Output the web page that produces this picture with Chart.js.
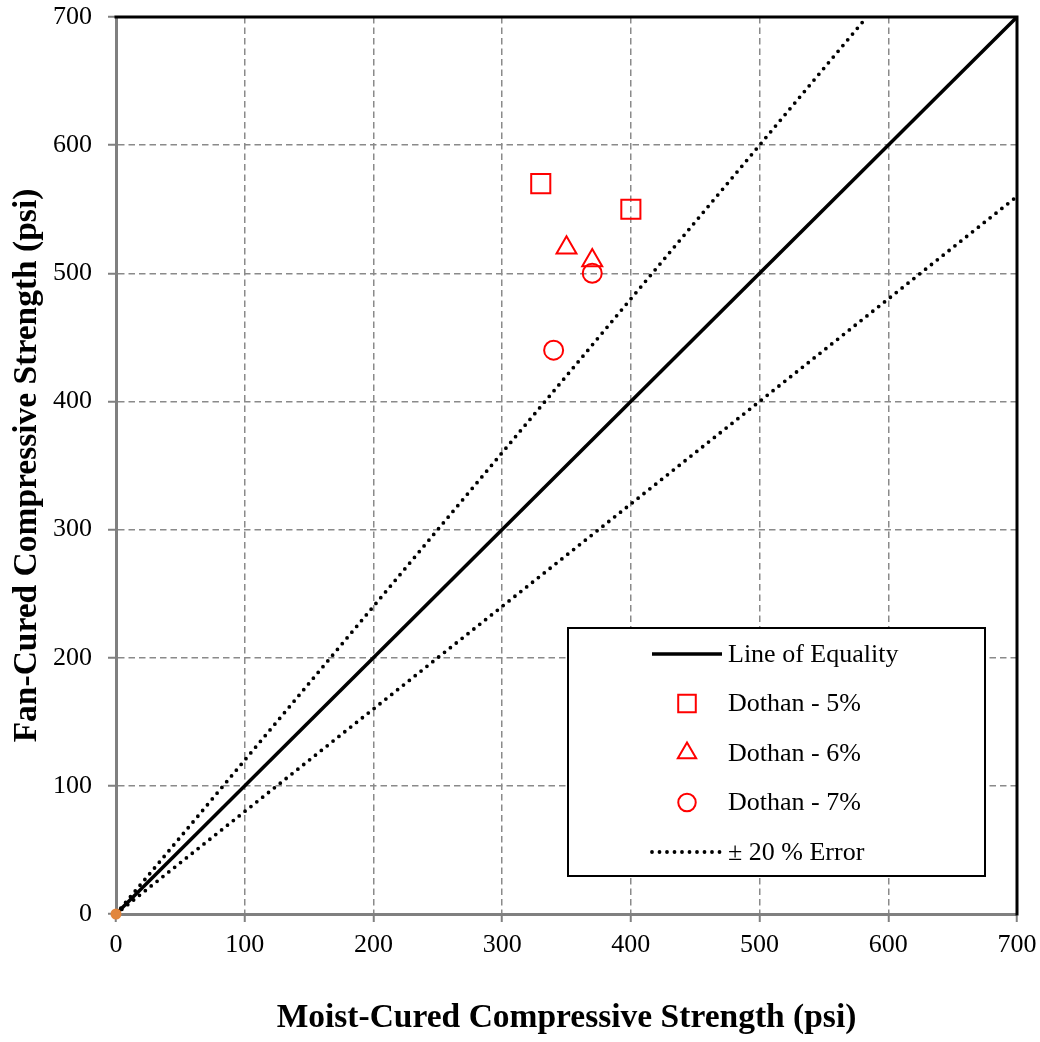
<!DOCTYPE html>
<html>
<head>
<meta charset="utf-8">
<script src="https://cdn.jsdelivr.net/npm/chart.js@4.4.0/dist/chart.umd.min.js"></script>
<style>
  html, body { margin: 0; padding: 0; background: #fff; }
  #wrap { width: 1040px; height: 1042px; position: relative; }
</style>
</head>
<body>
<div id="wrap"><canvas id="chart"></canvas></div>
<script>
// values (psi)
const tickValues = [0, 100, 200, 300, 400, 500, 600, 700];
const equalityX = [0, 700];
const equalityY = [0, 700];
const upperErrX = [0, 583.3];
const upperErrY = [0, 700];
const lowerErrX = [0, 700];
const lowerErrY = [0, 560];
const dothan5X = [330, 400];
const dothan5Y = [570, 550];
const dothan6X = [350, 370];
const dothan6Y = [520, 510];
const dothan7X = [340, 370];
const dothan7Y = [440, 500];
const originX = [0];
const originY = [0];
const legendLabels = ['Line of Equality', 'Dothan - 5%', 'Dothan - 6%', 'Dothan - 7%', '\u00b1 20 % Error'];

const RED = '#ff0000';
const GRAY = '#808080';
const FONT = "'Liberation Serif', 'Times New Roman', serif";
const DOTS = [0, 7.5];

function pts(xs, ys){
  return xs.map((x, i) => ({ x: x, y: ys[i] }));
}

const dotted = { borderColor: '#000', borderWidth: 3.8, borderDash: DOTS, borderCapStyle: 'round', pointRadius: 0, showLine: true, fill: false };
const marker = { showLine: false, borderColor: RED, backgroundColor: 'rgba(0,0,0,0)', pointBorderWidth: 2, pointHoverRadius: 0 };

// dataset 0 is painted on top, the last one at the bottom
const datasets = [
  { label: 'origin', data: pts(originX, originY), showLine: false, clip: false, pointRadius: 5.5, backgroundColor: '#e2863d', borderColor: '#e2863d', pointBorderWidth: 0 },
  Object.assign({ label: legendLabels[1], data: pts(dothan5X, dothan5Y), pointStyle: 'rect', pointRadius: 13.5 }, marker),
  Object.assign({ label: legendLabels[2], data: pts(dothan6X, dothan6Y), pointStyle: 'triangle', pointRadius: 11.5 }, marker),
  Object.assign({ label: legendLabels[3], data: pts(dothan7X, dothan7Y), pointStyle: 'circle', pointRadius: 9.5 }, marker),
  { label: legendLabels[0], data: pts(equalityX, equalityY), showLine: true, borderColor: '#000', borderWidth: 3.5, pointRadius: 0, fill: false },
  Object.assign({ label: legendLabels[4], data: pts(upperErrX, upperErrY) }, dotted),
  Object.assign({ label: 'lower', data: pts(lowerErrX, lowerErrY) }, dotted)
];

// black frame on top/right edges plus the boxed legend inside the plot
const framePlugin = {
  id: 'frameAndLegend',
  afterDatasetsDraw(chart){
    const ctx = chart.ctx;
    const a = chart.chartArea;
    ctx.save();
    ctx.strokeStyle = '#000';
    ctx.lineWidth = 3;
    ctx.lineCap = 'square';
    ctx.beginPath();
    ctx.moveTo(a.left, a.top);
    ctx.lineTo(a.right, a.top);
    ctx.lineTo(a.right, a.bottom);
    ctx.stroke();

    // legend box
    const bw = 417, bh = 248;
    const bx = a.right - 32 - bw;
    const by = a.bottom - 38 - bh;
    ctx.fillStyle = '#fff';
    ctx.fillRect(bx, by, bw, bh);
    ctx.lineWidth = 2;
    ctx.strokeStyle = '#000';
    ctx.strokeRect(bx, by, bw, bh);

    const rowH = 49.5;
    const y0 = by + 26;
    const sx1 = bx + 84, sx2 = bx + 154, mx = bx + 119, tx = bx + 160;
    ctx.font = '26px ' + FONT;
    ctx.textBaseline = 'middle';
    ctx.fillStyle = '#000';
    const order = [4, 1, 2, 3, 5];
    order.forEach((di, i) => {
      const ds = chart.data.datasets[di];
      const y = y0 + i * rowH;
      ctx.save();
      if (ds.showLine) {
        const isDots = ds.borderDash && ds.borderDash.length;
        ctx.strokeStyle = '#000';
        ctx.lineWidth = ds.borderWidth;
        ctx.lineCap = isDots ? 'round' : 'butt';
        ctx.setLineDash(isDots ? ds.borderDash : []);
        ctx.beginPath();
        ctx.moveTo(sx1, y);
        ctx.lineTo(sx2, y);
        ctx.stroke();
      } else {
        ctx.strokeStyle = RED;
        ctx.fillStyle = 'rgba(0,0,0,0)';
        ctx.lineWidth = 2;
        Chart.helpers.drawPoint(ctx, { pointStyle: ds.pointStyle, radius: ds.pointRadius * 0.92, rotation: 0, borderWidth: 2 }, mx, y);
      }
      ctx.restore();
      ctx.fillText(ds.label, tx, y + 1);
    });
    ctx.restore();
  }
};

function fixY(scale){ scale.width = 116; scale.paddingTop = 0; scale.paddingBottom = 0; }
function fixX(scale){ scale.height = 128; scale.paddingLeft = 0; scale.paddingRight = 0; }

const axisBase = {
  type: 'linear',
  min: 0,
  max: 700,
  afterBuildTicks(scale){ scale.ticks = tickValues.map(v => ({ value: v })); },
  grid: { color: '#8a8a8a', lineWidth: 1.5, tickLength: 8, tickColor: GRAY, tickWidth: 2, tickBorderDash: [] },
  border: { color: GRAY, width: 3, dash: [6.5, 4] },
  ticks: { color: '#000', font: { family: FONT, size: 26 } }
};

new Chart(document.getElementById('chart'), {
  type: 'scatter',
  data: { datasets: datasets },
  options: {
    responsive: true,
    maintainAspectRatio: false,
    animation: false,
    layout: { padding: { top: 17, right: 23, left: 0, bottom: 0 } },
    plugins: { legend: { display: false }, tooltip: { enabled: false } },
    scales: {
      x: Object.assign({}, axisBase, {
        position: 'bottom',
        afterFit: fixX,
        ticks: Object.assign({}, axisBase.ticks, { padding: 8 }),
        title: { display: true, text: 'Moist-Cured Compressive Strength (psi)', color: '#000', font: { family: FONT, size: 33.5, weight: 'bold' }, padding: { top: 48 } }
      }),
      y: Object.assign({}, axisBase, {
        position: 'left',
        afterFit: fixY,
        ticks: Object.assign({}, axisBase.ticks, { padding: 16 }),
        title: { display: true, text: 'Fan-Cured Compressive Strength (psi)', color: '#000', font: { family: FONT, size: 33.5, weight: 'bold' }, padding: { top: 7, bottom: 10 } }
      })
    }
  },
  plugins: [framePlugin]
});
</script>
</body>
</html>
